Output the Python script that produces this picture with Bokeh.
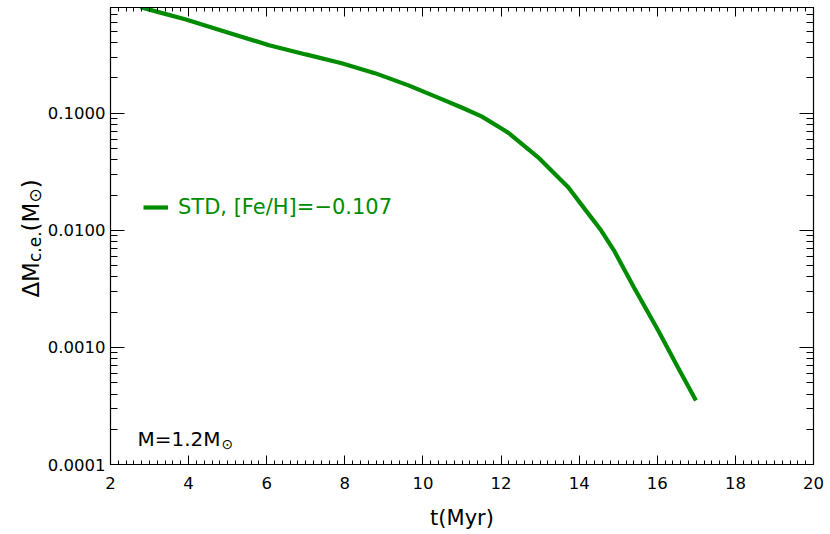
import math
from bokeh.plotting import figure
from bokeh.layouts import row
from bokeh.models import (LogAxis, LinearAxis, FixedTicker, Range1d, Label, Legend,
                          LegendItem, PrintfTickFormatter, CustomJSTickFormatter)
from bokeh.embed import file_html
from bokeh.resources import INLINE

# ---- data ----
t_myr = [2.77, 3.3, 3.91, 5.0, 6.06, 7.0, 7.92, 8.43, 8.77, 9.63, 10.48, 10.99, 11.5,
         12.0, 12.19, 12.95, 13.72, 14.15, 14.56, 14.89, 15.40, 16.02, 16.53, 16.99]
dm_ce = [0.805, 0.72, 0.635, 0.49, 0.381, 0.318, 0.267, 0.238, 0.22, 0.173, 0.132, 0.112,
         0.094, 0.0744, 0.068, 0.042, 0.0233, 0.0151, 0.0100, 0.00675, 0.00326, 0.00140,
         0.000675, 0.000352]

x_ticks = [2, 4, 6, 8, 10, 12, 14, 16, 18, 20]
y_ticks = [1e-4, 1e-3, 1e-2, 1e-1]
legend_text = "STD, [Fe/H]=\u22120.107"
mass_text = "M=1.2M"
sun = "\u2299"
x_label = "t(Myr)"
y_label_parts = [("\u0394M", False), ("c.e.", True), ("(M", False), (sun, True), (")", False)]

GREEN = "#008c00"
FONT = "DejaVu Sans"
LABEL_W = 44

x_minor = [2 + 0.2 * i for i in range(91)]
y_minor = [k * 10.0 ** e for e in range(-4, 0) for k in range(2, 10)]

p = figure(width=830 - LABEL_W, height=534, x_range=Range1d(2, 20), y_range=Range1d(1e-4, 0.8),
           y_axis_type="log", output_backend="svg", toolbar_location=None,
           min_border_left=108 - LABEL_W, min_border_right=17, min_border_top=7,
           min_border_bottom=70)
p.grid.visible = False
p.outline_line_color = "black"
p.outline_line_width = 1.2
p.background_fill_color = "white"
p.border_fill_color = "white"

xt = FixedTicker(ticks=x_ticks, minor_ticks=x_minor)
yt = FixedTicker(ticks=y_ticks, minor_ticks=y_minor)

def style_x(ax):
    ax.ticker = xt
    ax.major_tick_in = 9
    ax.major_tick_out = 0
    ax.minor_tick_in = 4
    ax.minor_tick_out = 0
    ax.axis_line_color = "black"
    ax.major_tick_line_color = "black"
    ax.minor_tick_line_color = "black"

def style_y(ax):
    ax.ticker = yt
    ax.major_tick_in = 14
    ax.major_tick_out = 0
    ax.minor_tick_in = 7
    ax.minor_tick_out = 0
    ax.axis_line_color = "black"
    ax.major_tick_line_color = "black"
    ax.minor_tick_line_color = "black"

xa = p.xaxis[0]
style_x(xa)
xa.formatter = PrintfTickFormatter(format="%d")
xa.major_label_text_font = FONT
xa.major_label_text_font_size = "16.5px"
xa.major_label_text_color = "black"
xa.major_label_standoff = 12
xa.axis_label = x_label
xa.axis_label_text_font = FONT
xa.axis_label_text_font_size = "21px"
xa.axis_label_text_font_style = "normal"
xa.axis_label_text_color = "black"
xa.axis_label_standoff = 14

ya = p.yaxis[0]
style_y(ya)
ya.formatter = PrintfTickFormatter(format="%.4f")
ya.major_label_text_font = FONT
ya.major_label_text_font_size = "16.5px"
ya.major_label_text_color = "black"
ya.major_label_standoff = 5

blank = CustomJSTickFormatter(code="return ''")
top = LinearAxis(formatter=blank, major_label_standoff=0, major_label_text_font_size="1px")
style_x(top)
p.add_layout(top, "above")
right = LogAxis(formatter=blank, major_label_standoff=0, major_label_text_font_size="1px")
style_y(right)
p.add_layout(right, "right")

r = p.line(t_myr, dm_ce, line_color=GREEN, line_width=4.2)

legend = Legend(items=[LegendItem(label=legend_text, renderers=[r])], location=(33, 245),
                padding=0, margin=0, spacing=0, border_line_alpha=0, background_fill_alpha=0,
                glyph_width=25, glyph_height=20, label_standoff=10,
                label_text_font=FONT, label_text_font_size="21px", label_text_color=GREEN)
p.add_layout(legend)

# mass annotation
p.add_layout(Label(x=27, y=26, x_units="screen", y_units="screen", text=mass_text,
                   text_font=FONT, text_font_size="20px", text_color="black",
                   text_baseline="alphabetic", text_align="left"))
p.add_layout(Label(x=111, y=21, x_units="screen", y_units="screen", text=sun,
                   text_font=FONT, text_font_size="14px", text_color="black",
                   text_baseline="alphabetic", text_align="left"))

# narrow strip holding the rotated y-axis title (pieces for the subscripts)
lab = figure(width=LABEL_W, height=534, x_range=Range1d(0, LABEL_W), y_range=Range1d(0, 534),
             output_backend="svg", toolbar_location=None, min_border=0,
             x_axis_location=None, y_axis_location=None)
lab.grid.visible = False
lab.outline_line_color = None
lab.background_fill_color = "white"
lab.border_fill_color = "white"

em_w = {"\u0394": 0.684, "M": 0.863, "c": 0.55, ".": 0.318, "e": 0.615, "(": 0.39,
        ")": 0.39, sun: 0.838}
main_fs, sub_fs = 23, 17
widths = [sum(em_w[c] for c in txt) * (sub_fs if sub else main_fs) for txt, sub in y_label_parts]
total = sum(widths)
# strip frame is aligned with the main frame (bottom at page y=464)
ypos = (464 - 238) - total / 2
for (txt, sub), w in zip(y_label_parts, widths):
    lab.add_layout(Label(x=(34 if sub else 30), y=ypos, x_units="screen", y_units="screen",
                         text=txt, angle=math.pi / 2, text_font=FONT,
                         text_font_size=f"{sub_fs if sub else main_fs}px", text_color="black",
                         text_baseline="alphabetic", text_align="left"))
    ypos += w

layout = row(lab, p, spacing=0)
open("out.html", "w").write(file_html(layout, INLINE))
